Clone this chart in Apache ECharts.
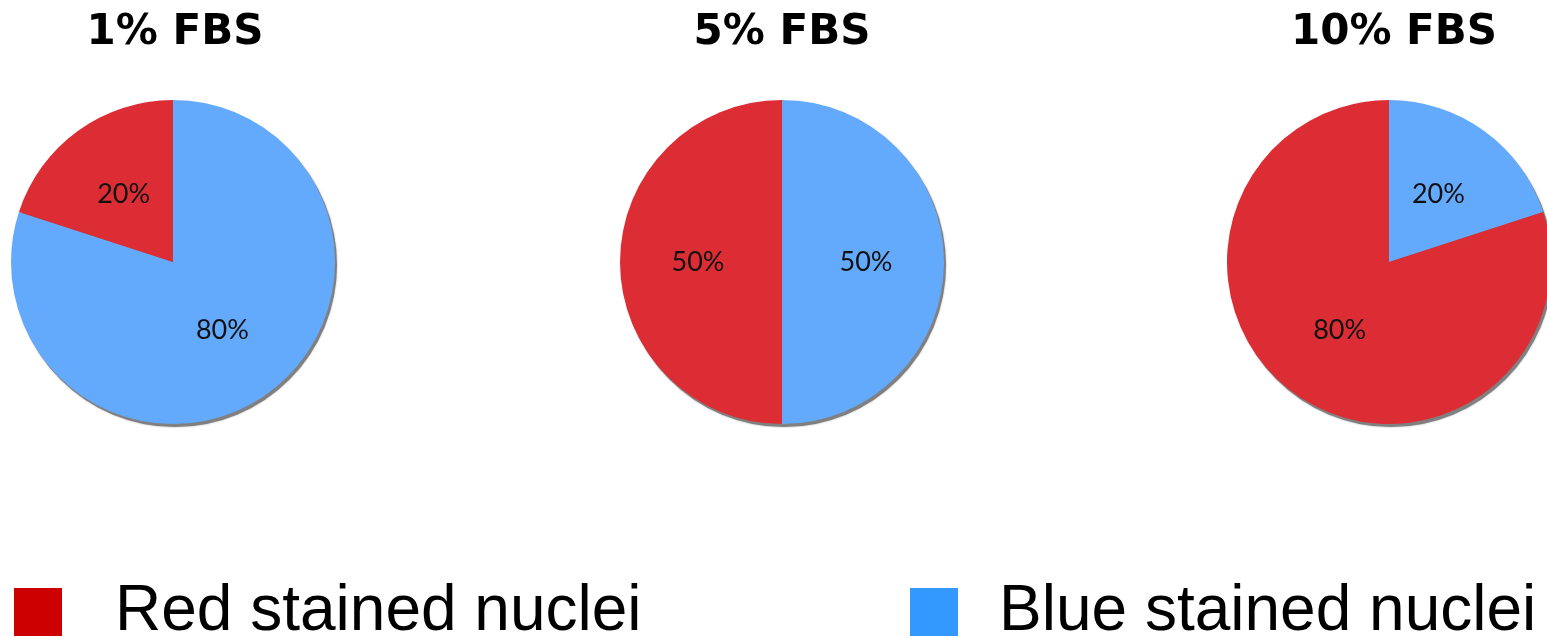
<!DOCTYPE html>
<html>
<head>
<meta charset="utf-8">
<title>Nuclei staining by FBS concentration</title>
<script src="https://cdn.jsdelivr.net/npm/echarts@6/dist/echarts.min.js"></script>
<style>
  html, body { margin: 0; padding: 0; background: #fff; }
  #chart { width: 1547px; height: 638px; }
</style>
</head>
<body>
<div id="chart"></div>
<script>
// Serum conditions, one pie each
const conditions = ['1% FBS', '5% FBS', '10% FBS'];
// Share of nuclei (%) per condition
const blueStained = [80, 50, 20];
const redStained = [20, 50, 80];
const seriesNames = ['Blue stained nuclei', 'Red stained nuclei'];

const sliceColors = { blue: '#63aafd', red: '#dc2c34' };
const legendColors = { blue: '#3399ff', red: '#cc0000' };
const centersX = [173, 782, 1389];
const titleX = [175, 782, 1394];
const centerY = 262;
const radius = 162;

const chart = echarts.init(document.getElementById('chart'), null, { renderer: 'canvas' });

const titles = conditions.map((c, i) => ({
  text: c,
  left: titleX[i],
  textAlign: 'center',
  top: 12,
  padding: 0,
  textStyle: { fontFamily: 'DejaVu Sans', fontWeight: 'bold', fontSize: 42, color: '#000' }
}));

const series = [];
conditions.forEach((c, i) => {
  // soft grey drop edge under each pie
  series.push({
    type: 'pie',
    silent: true,
    center: [centersX[i] + 2, centerY + 3],
    radius: radius,
    label: { show: false },
    labelLine: { show: false },
    itemStyle: { color: '#808080', shadowColor: 'rgba(0,0,0,0.35)', shadowBlur: 2 },
    data: [{ name: '_edge', value: 1 }],
    z: 1
  });
  series.push({
    type: 'pie',
    name: c,
    center: [centersX[i], centerY],
    radius: radius,
    startAngle: 90,
    clockwise: true,
    animation: false,
    label: {
      show: true,
      position: 'inside',
      formatter: '{c}%',
      fontFamily: 'Lato',
      fontSize: 27,
      color: '#111'
    },
    labelLine: { show: false },
    itemStyle: { borderWidth: 0 },
    data: [
      { name: seriesNames[0], value: blueStained[i], itemStyle: { color: sliceColors.blue } },
      { name: seriesNames[1], value: redStained[i], itemStyle: { color: sliceColors.red } }
    ],
    z: 2
  });
});

function legendText(gap) {
  return {
    fontFamily: 'Liberation Sans',
    fontSize: 64,
    color: '#000',
    padding: [0, 0, 0, gap]
  };
}

chart.setOption({
  animation: false,
  backgroundColor: '#fff',
  title: titles,
  legend: [
    {
      left: 14, top: 580, padding: 0,
      itemWidth: 48, itemHeight: 48, icon: 'rect', selectedMode: false,
      textStyle: legendText(48),
      data: [{ name: seriesNames[1], itemStyle: { color: legendColors.red } }]
    },
    {
      left: 910, top: 580, padding: 0,
      itemWidth: 48, itemHeight: 48, icon: 'rect', selectedMode: false,
      textStyle: legendText(36),
      data: [{ name: seriesNames[0], itemStyle: { color: legendColors.blue } }]
    }
  ],
  series: series
});
</script>
</body>
</html>
